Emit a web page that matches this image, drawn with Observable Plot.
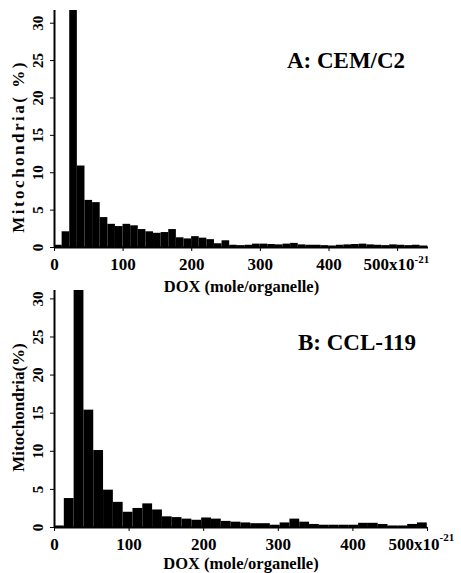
<!DOCTYPE html>
<html><head><meta charset="utf-8">
<script src="https://cdn.jsdelivr.net/npm/d3@7"></script>
<script src="https://cdn.jsdelivr.net/npm/@observablehq/plot@0.6"></script>
<style>
body{margin:0;background:#fff;}
#wrap{position:relative;width:461px;height:573px;}
#wrap svg{position:absolute;left:0;}
</style></head><body><div id="wrap"></div>
<script>
// ---- data ----
const xTicks = [0, 100, 200, 300, 400];
const lastTick = 500;
const xExponent = "-21";
const yTicks = [0, 5, 10, 15, 20, 25, 30];
const xTitle = "DOX (mole/organelle)";

// Panel A: CEM/C2 (bin width ~11.1 x10^-21 mole)
const labelA = "A: CEM/C2";
const yTitleA = "Mitochondria( %)";
const binWidthA = 11.1;
const valuesA = [0.3, 2.1, 32.5, 10.9, 6.3, 6.0, 4.0, 3.1, 2.8, 3.1,
  2.9, 2.4, 2.1, 1.9, 2.0, 2.4, 1.3, 1.15, 1.45, 1.25,
  1.05, 0.5, 0.9, 0.3, 0.25, 0.3, 0.45, 0.45, 0.4, 0.35,
  0.45, 0.55, 0.35, 0.3, 0.3, 0.25, 0.2, 0.3, 0.35, 0.4,
  0.45, 0.35, 0.3, 0.25, 0.35, 0.3, 0.25, 0.3, 0.2];

// Panel B: CCL-119 (bin width ~13.15 x10^-21 mole)
const labelB = "B: CCL-119";
const yTitleB = "Mitochondria(%)";
const binWidthB = 13.15;
const valuesB = [0.2, 3.8, 31.2, 15.4, 10.1, 4.9, 3.3, 2.0, 2.5, 3.1,
  2.3, 1.4, 1.3, 1.1, 0.95, 1.25, 1.1, 0.8, 0.7, 0.6,
  0.5, 0.5, 0.3, 0.6, 1.1, 0.7, 0.4, 0.3, 0.3, 0.3,
  0.3, 0.55, 0.55, 0.4, 0.2, 0.2, 0.4, 0.6];

const font = "'Liberation Serif', 'Times New Roman', serif";

function panel(cfg) {
  const bins = cfg.values.map((v, i) => ({x1: i * cfg.bw, x2: (i + 1) * cfg.bw, v}));
  const T = {fontFamily: font, fontWeight: "bold", fill: "black", textAnchor: "middle", lineAnchor: "middle"};
  const svg = Plot.plot({
    width: 461, height: cfg.height,
    marginTop: 10, marginLeft: 54, marginRight: cfg.marginRight, marginBottom: cfg.marginBottom,
    style: {background: "transparent", overflow: "visible", fontFamily: font},
    x: {domain: [0, cfg.xMax], ticks: [...xTicks, lastTick], tickSize: 4, tickFormat: () => "", label: null},
    y: {domain: [0, cfg.yMax], ticks: yTicks, tickSize: 4, tickFormat: () => "", label: null},
    marks: [
      Plot.rect(bins, {x1: "x1", x2: "x2", y1: 0, y2: "v", fill: "black", clip: true}),
      Plot.ruleY([0], {stroke: "black", strokeWidth: 2}),
      Plot.ruleX([0], {stroke: "black", strokeWidth: 2}),
      Plot.text(xTicks, {x: d => d, frameAnchor: "bottom", dy: 17, text: d => String(d), fontSize: 17, ...T}),
      Plot.text([lastTick], {x: d => d, frameAnchor: "bottom", dy: 17, dx: cfg.supDx, ...T, textAnchor: "end", text: d => d + "x10", fontSize: 17}),
      Plot.text([xExponent], {x: () => lastTick, frameAnchor: "bottom", dy: cfg.supDy, dx: cfg.supDx, ...T, textAnchor: "start", text: d => d, fontSize: 11}),
      Plot.text(yTicks, {y: d => d, frameAnchor: "left", dx: -16.5, rotate: -90, text: d => String(d), fontSize: 15, ...T}),
      Plot.text([cfg.yTitle], {frameAnchor: "left", dx: -35.5, dy: cfg.yTitleDy, rotate: -90, text: d => d, fontSize: 17, ...T}),
      Plot.text([xTitle], {frameAnchor: "bottom", dy: cfg.titleDy, text: d => d, fontSize: 16.5, ...T}),
      Plot.text([cfg.label], {frameAnchor: "top-right", dx: cfg.labelDx, dy: cfg.labelDy, text: d => d, fontSize: 23, ...T})
    ]
  });
  d3.select(svg).selectAll("text")
    .filter(function () { return this.textContent === cfg.yTitle; })
    .style("letter-spacing", cfg.yTitleSpacing + "px");
  return svg;
}

const wrap = document.getElementById("wrap");
const a = panel({values: valuesA, bw: binWidthA, xMax: 545, yMax: 31.7, height: 300,
  marginBottom: 53, marginRight: 33, titleDy: 39.5, supDx: 17, supDy: 11.5,
  yTitle: yTitleA, yTitleDy: 17.5, yTitleSpacing: 2.5, label: labelA, labelDx: -82.5, labelDy: 50});
a.style.top = "0px";
wrap.appendChild(a);
const b = panel({values: valuesB, bw: binWidthB, xMax: 500, yMax: 31.1, height: 293,
  marginBottom: 46, marginRight: 34, titleDy: 36.5, supDx: 12, supDy: 9.5,
  yTitle: yTitleB, yTitleDy: -1.5, yTitleSpacing: 0, label: labelB, labelDx: -70.5, labelDy: 52.5});
b.style.top = "280px";
wrap.appendChild(b);
</script></body></html>
